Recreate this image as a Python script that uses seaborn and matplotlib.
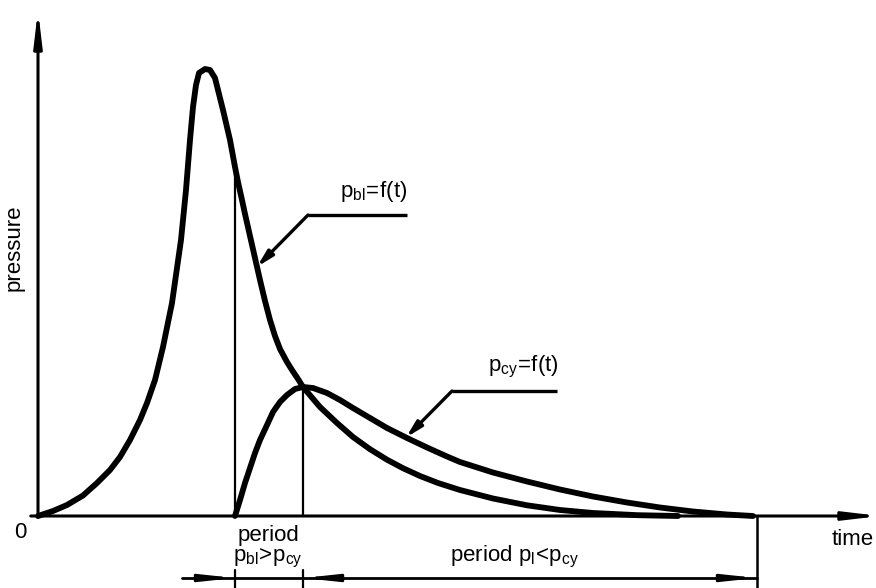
import numpy as np
import pandas as pd
import matplotlib
matplotlib.use("Agg")
import matplotlib.pyplot as plt
import seaborn as sns
from matplotlib.patches import FancyArrowPatch

# Blow-off pressure p_bl(t) (arbitrary time / pressure units)
t_bl = [0.0, 1.5, 2.9, 4.5, 5.9, 7.2, 8.2, 9.2, 10.2, 10.9, 11.7, 12.5, 13.4,
        14.3, 14.8, 15.2, 15.5, 15.8, 16.1, 16.7, 17.2, 17.7, 18.0, 18.5, 19.2,
        19.7, 20.0, 20.4, 20.7, 21.7, 22.2, 22.7, 23.2, 23.7, 24.2, 24.9, 25.4,
        26.0, 26.5, 28.2, 29.9, 31.5, 33.2, 34.9, 36.5, 38.2, 40.0, 42.2, 45.5,
        48.9, 52.2, 55.5, 60.0, 64.0]
p_bl = [0.0, 0.5, 1.1, 2.05, 3.3, 4.6, 5.9, 7.6, 9.6, 11.3, 13.6, 16.9, 21.3,
        27.6, 32.6, 37.6, 40.9, 43.1, 44.3, 44.7, 44.6, 43.8, 42.6, 40.6, 37.6,
        34.9, 33.4, 31.6, 30.2, 25.8, 23.6, 21.5, 19.6, 18.0, 16.7, 15.4, 14.6,
        13.7, 12.9, 10.9, 9.3, 7.9, 6.68, 5.63, 4.78, 4.0, 3.3, 2.6, 1.75,
        1.07, 0.6, 0.3, 0.08, 0.0]

# Cylinder pressure p_cy(t)
t_cy = [19.7, 20.2, 20.7, 21.2, 21.7, 22.2, 22.9, 23.5, 24.2, 24.9, 25.7, 26.5,
        27.5, 28.9, 30.2, 31.5, 33.2, 34.9, 36.9, 38.9, 40.9, 42.2, 45.5, 48.9,
        52.2, 55.5, 58.9, 62.2, 65.5, 68.9, 71.5]
p_cy = [0.0, 1.6, 3.3, 4.8, 6.3, 7.6, 9.1, 10.4, 11.4, 12.1, 12.7, 12.9,
        12.8, 12.3, 11.6, 10.8, 9.8, 8.8, 7.8, 6.85, 5.95, 5.4, 4.35, 3.45,
        2.65, 1.95, 1.35, 0.85, 0.45, 0.15, 0.0]

# Time marks: start of p_cy, crossing of the curves, end of the process
t_start, t_cross, t_end = 19.7, 26.5, 71.9
t_dim_left = 14.4          # start of the dimension line

# Text
y_label = "pressure"
x_label = "time"
origin_label = "0"
label_bl = r"$\mathregular{p_{bl}\!=\!f(t)}$"
label_cy = r"$\mathregular{p_{cy}\!=\!f(t)}$"
period1_a = "period"
period1_b = r"$\mathregular{p_{bl}\!>\!p_{cy}}$"
period2 = r"$\mathregular{period\ p_{l}\!<\!p_{cy}}$"

sns.set_theme(style="white")
plt.rcParams["font.family"] = ["Liberation Sans", "DejaVu Sans"]
plt.rcParams["mathtext.fontset"] = "custom"
plt.rcParams["mathtext.rm"] = "Liberation Sans"
plt.rcParams["mathtext.it"] = "Liberation Sans:italic"

fig = plt.figure(figsize=(8.76, 5.88), dpi=100)
ax = fig.add_axes([0, 0, 1, 1])
ax.set_xlim(-3.8, 83.8)
ax.set_ylim(-7.2, 51.6)
ax.axis("off")

ink = "black"
fs = 16

# Coordinate axes with slim arrow heads
ax.add_patch(FancyArrowPatch((0, -0.4), (0, 50.9),
                             arrowstyle="-|>,head_length=1.7,head_width=0.2",
                             mutation_scale=12, lw=2.2, color=ink))
ax.add_patch(FancyArrowPatch((-1.0, 0), (84.5, 0),
                             arrowstyle="-|>,head_length=1.7,head_width=0.2",
                             mutation_scale=12, lw=2.2, color=ink))

# Pressure curves
df_bl = pd.DataFrame({"t": t_bl, "p": p_bl})
df_cy = pd.DataFrame({"t": t_cy, "p": p_cy})
for df in (df_bl, df_cy):
    sns.lineplot(data=df, x="t", y="p", ax=ax, color=ink, linewidth=4.2,
                 estimator=None, solid_capstyle="round", solid_joinstyle="round")

# Vertical marks
top_start = np.interp(t_start, t_bl, p_bl)
top_cross = np.interp(t_cross, t_cy, p_cy)
ax.plot([t_start, t_start], [0, top_start], color=ink, lw=1.6)
ax.plot([t_cross, t_cross], [0, top_cross], color=ink, lw=1.6)
ax.plot([t_end, t_end], [0, -7.2], color=ink, lw=1.8)
for t in (t_start, t_cross):
    ax.plot([t, t], [-5.4, -7.2], color=ink, lw=1.6)

# Dimension line below the axis
y_dim = -6.2
ax.plot([t_dim_left, t_end], [y_dim, y_dim], color=ink, lw=2.0)
head = "-|>,head_length=1.6,head_width=0.17"
for a, b in ((t_dim_left + 1.5, t_start), (t_cross + 3.0, t_cross),
             (t_end - 3.0, t_end)):
    ax.add_patch(FancyArrowPatch((a, y_dim), (b, y_dim), arrowstyle=head,
                                 mutation_scale=12, lw=2.0, color=ink,
                                 shrinkA=0, shrinkB=0))

# Leaders to the curve labels
def leader(t_tip, p_tip, t_knee, p_knee, t_right):
    ax.plot([t_knee, t_right], [p_knee, p_knee], color=ink, lw=2.4,
            solid_capstyle="butt")
    ax.add_patch(FancyArrowPatch((t_knee, p_knee), (t_tip, p_tip),
                                 arrowstyle="-|>,head_length=0.8,head_width=0.2",
                                 mutation_scale=12, lw=2.4, color=ink,
                                 shrinkA=0, shrinkB=0))

leader(21.9, np.interp(21.9, t_bl, p_bl), 27.0, 30.1, 36.9)
leader(36.8, np.interp(36.8, t_cy, p_cy), 41.4, 12.5, 51.9)

ax.text(30.2, 31.2, label_bl, fontsize=fs, ha="left", va="bottom", color=ink)
ax.text(45.0, 13.6, label_cy, fontsize=fs, ha="left", va="bottom", color=ink)

# Axis labels
ax.text(-2.4, 26.8, y_label, fontsize=fs, rotation=90, ha="center",
        va="center", color=ink)
ax.text(-1.8, -1.7, origin_label, fontsize=fs, ha="center", va="center",
        color=ink)
ax.text(83.6, -1.3, x_label, fontsize=fs, ha="right", va="top", color=ink)

# Period annotations
ax.text(23.0, -0.9, period1_a, fontsize=fs, ha="center", va="top", color=ink)
ax.text(23.0, -3.1, period1_b, fontsize=fs, ha="center", va="top", color=ink)
ax.text(41.2, -2.8, period2, fontsize=fs, ha="left", va="top", color=ink)

fig.savefig("out.png", dpi=100)
